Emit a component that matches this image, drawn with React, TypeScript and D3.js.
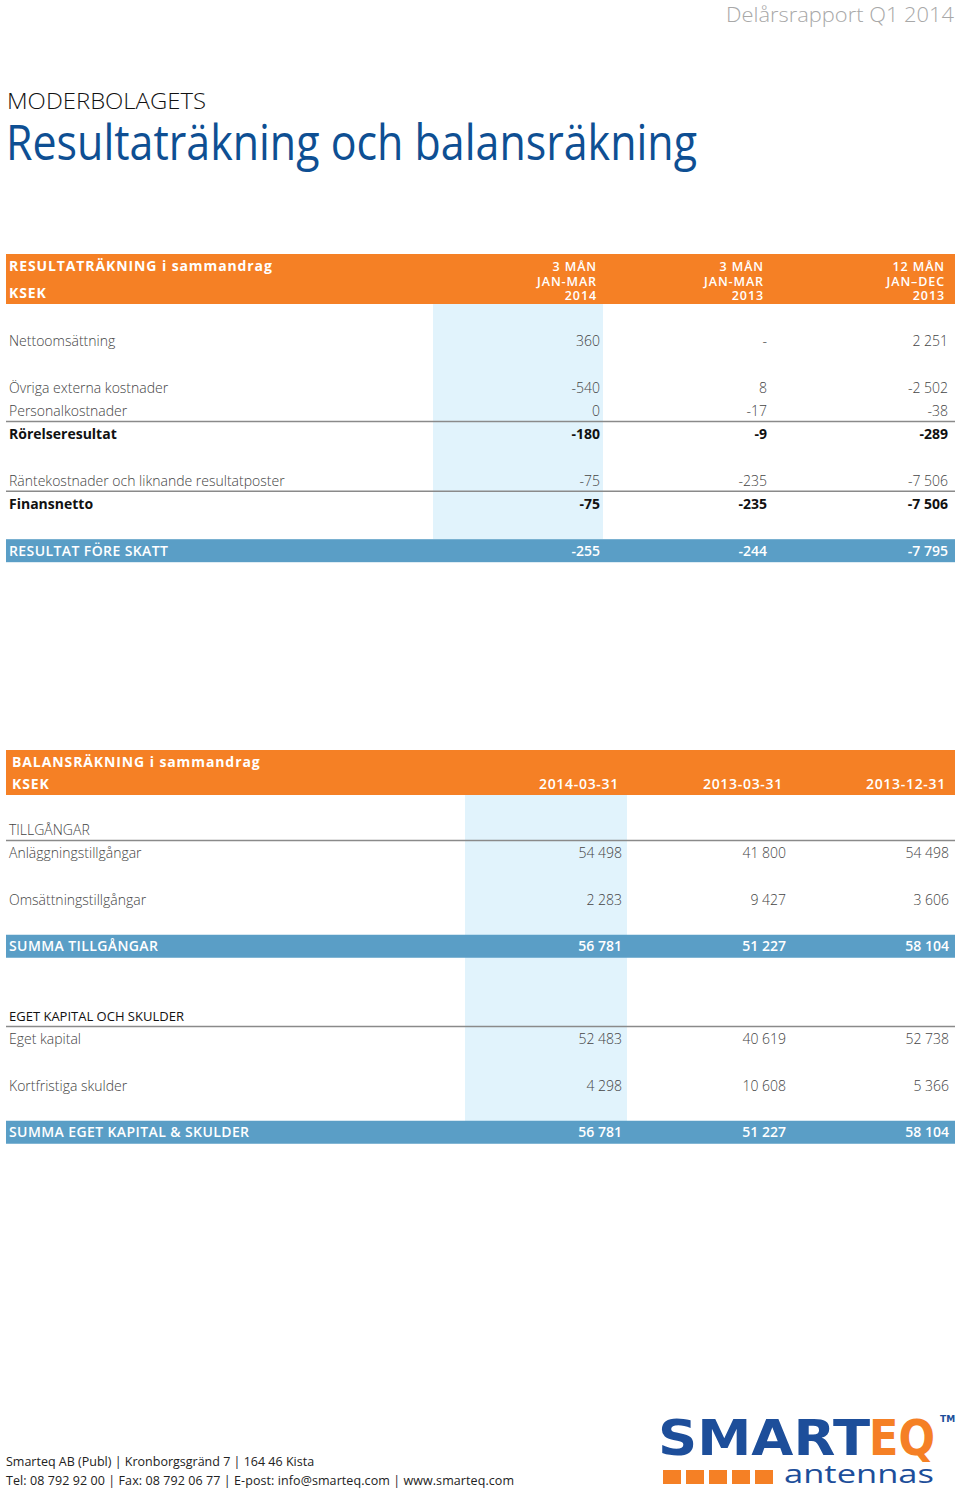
import React from "react";
import * as d3 from "d3";

const W = 960;
const H = 1491;

// Resultaträkning
const incomeCols = ["3 MÅN|JAN-MAR|2014", "3 MÅN|JAN-MAR|2013", "12 MÅN|JAN–DEC|2013"];
const incomeLabels = [
  "Nettoomsättning",
  "Övriga externa kostnader",
  "Personalkostnader",
  "Rörelseresultat",
  "Räntekostnader och liknande resultatposter",
  "Finansnetto",
  "RESULTAT FÖRE SKATT",
];
const incomeSlots = [0, 2, 3, 4, 6, 7, 9];
const incomeKinds = ["plain", "plain", "plain", "bold", "plain", "bold", "total"];
const income2014 = ["360", "-540", "0", "-180", "-75", "-75", "-255"];
const income2013 = ["-", "8", "-17", "-9", "-235", "-235", "-244"];
const incomeYear = ["2 251", "-2 502", "-38", "-289", "-7 506", "-7 506", "-7 795"];
const incomeLinesAfter = [2, 4];

// Balansräkning
const balanceCols = ["2014-03-31", "2013-03-31", "2013-12-31"];
const balanceLabels = [
  "TILLGÅNGAR",
  "Anläggningstillgångar",
  "Omsättningstillgångar",
  "SUMMA TILLGÅNGAR",
  "EGET KAPITAL OCH SKULDER",
  "Eget kapital",
  "Kortfristiga skulder",
  "SUMMA EGET KAPITAL & SKULDER",
];
const balanceSlots = [0, 1, 3, 5, 8, 9, 11, 13];
const balanceKinds = ["section", "plain", "plain", "total", "section2", "plain", "plain", "total"];
const balance1 = ["", "54 498", "2 283", "56 781", "", "52 483", "4 298", "56 781"];
const balance2 = ["", "41 800", "9 427", "51 227", "", "40 619", "10 608", "51 227"];
const balance3 = ["", "54 498", "3 606", "58 104", "", "52 738", "5 366", "58 104"];
const balanceLinesAfter = [0, 4];

const ORANGE = "#f58025";
const BLUE_BAND = "#5a9ec6";
const LIGHT = "#e1f3fc";
const TITLE_BLUE = "#0e4f93";
const LOGO_BLUE = "#1d4e9a";
const FONT = "'Open Sans', sans-serif";

const left = 6;
const right = 955;

function Table({
  top, headH, title, colHeads, colX, bandX, labels, slots, kinds, values, linesAfter, y0, yStep, bodyEnd, titleX,
}: any) {
  const y = d3.scaleLinear().domain([0, 1]).range([y0, y0 + yStep]);
  return (
    <g>
      <rect x={left} y={top} width={right - left} height={headH} fill={ORANGE} />
      <rect x={bandX[0]} y={top + headH} width={bandX[1] - bandX[0]} height={bodyEnd - top - headH} fill={LIGHT} />
      <text x={titleX} y={top + 17} fill="#fff" fontWeight={700} fontSize={14} letterSpacing={0.9} fontFamily={FONT}>
        {title}
      </text>
      <text x={titleX} y={top + headH - 6} fill="#fff" fontWeight={700} fontSize={14} letterSpacing={0.9} fontFamily={FONT}>
        KSEK
      </text>
      {colHeads.map((h: string, i: number) => {
        const parts = h.split("|");
        return parts.map((p, j) => (
          <text
            key={i + "-" + j}
            x={colX[i] - 3}
            y={parts.length === 1 ? top + headH - 6 : top + 17 + j * 14.5}
            textAnchor="end"
            fill="#fff"
            fontWeight={600}
            fontSize={parts.length === 1 ? 14 : 12.5}
            letterSpacing={parts.length === 1 ? 0.7 : 0.9}
            fontFamily={FONT}
          >
            {p}
          </text>
        ));
      })}
      {labels.map((lab: string, i: number) => {
        const k = kinds[i];
        const cy = y(slots[i]);
        const total = k === "total";
        const bold = k === "bold" || total;
        const color = total ? "#fff" : k === "plain" || k === "section" ? "#444" : "#111";
        return (
          <g key={lab}>
            {total && <rect x={left} y={cy - 11.5} width={right - left} height={23} fill={BLUE_BAND} />}
            <text
              x={9}
              y={cy + 5}
              fill={color}
              fontSize={k === "section2" ? 13 : 14}
              fontWeight={bold ? (total ? 600 : 700) : k === "section2" ? 400 : 300}
              letterSpacing={total ? 0.4 : 0}
              fontFamily={FONT}
            >
              {lab}
            </text>
            {values.map((col: string[], c: number) => (
              <text
                key={c}
                x={colX[c]}
                y={cy + 5}
                textAnchor="end"
                fill={color}
                fontSize={14}
                fontWeight={bold ? (total ? 600 : 700) : 300}
                fontFamily={FONT}
              >
                {col[i]}
              </text>
            ))}
          </g>
        );
      })}
      {linesAfter.map((i: number) => (
        <line
          key={"l" + i}
          x1={left}
          x2={right}
          y1={y(slots[i]) + 10.5}
          y2={y(slots[i]) + 10.5}
          stroke="#8a8a8a"
          strokeWidth={1.5}
        />
      ))}
    </g>
  );
}

function Logo() {
  const sq = d3.range(5);
  const sx = d3.scaleLinear().domain([0, 1]).range([663, 686]);
  return (
    <g>
      <text x={658} y={1455} fontFamily="'DejaVu Sans', sans-serif" fontWeight={700} fontSize={50} fill={LOGO_BLUE}
        textLength={212} lengthAdjust="spacingAndGlyphs">
        SMART
      </text>
      <text x={869} y={1455} fontFamily="'DejaVu Sans', sans-serif" fontWeight={700} fontSize={50} fill={ORANGE}
        textLength={66} lengthAdjust="spacingAndGlyphs">
        EQ
      </text>
      <text x={940} y={1422} fontFamily="'DejaVu Sans', sans-serif" fontWeight={700} fontSize={9} fill={LOGO_BLUE}>
        TM
      </text>
      {sq.map((i) => (
        <rect key={i} x={sx(i)} y={1470} width={18} height={14} fill={ORANGE} />
      ))}
      <text x={784} y={1483} fontFamily={FONT} fontSize={26} fill={LOGO_BLUE} textLength={150} lengthAdjust="spacingAndGlyphs">
        antennas
      </text>
    </g>
  );
}

export default function App() {
  return (
    <svg width={W} height={H} viewBox={`0 0 ${W} ${H}`} style={{ display: "block", position: "absolute", left: 0, top: 0 }}>
      <rect width={W} height={H} fill="#fff" />
      <text x={954} y={22} textAnchor="end" fontFamily={FONT} fontWeight={300} fontSize={21} fill="#a8a8a8" textLength={228} lengthAdjust="spacingAndGlyphs">
        Delårsrapport Q1 2014
      </text>
      <text x={7} y={109} fontFamily={FONT} fontWeight={300} fontSize={22} fill="#111" textLength={199} lengthAdjust="spacingAndGlyphs">
        MODERBOLAGETS
      </text>
      <text x={6} y={160} fontFamily={FONT} fontWeight={400} fontSize={49} fill={TITLE_BLUE} textLength={691} lengthAdjust="spacingAndGlyphs">
        Resultaträkning och balansräkning
      </text>

      <Table
        top={254}
        headH={50}
        title="RESULTATRÄKNING i sammandrag"
        titleX={9}
        colHeads={incomeCols}
        colX={[600, 767, 948]}
        bandX={[433, 603]}
        labels={incomeLabels}
        slots={incomeSlots}
        kinds={incomeKinds}
        values={[income2014, income2013, incomeYear]}
        linesAfter={incomeLinesAfter}
        y0={341}
        yStep={23.3}
        bodyEnd={539}
      />

      <Table
        top={750}
        headH={45}
        title="BALANSRÄKNING i sammandrag"
        titleX={12}
        colHeads={balanceCols}
        colX={[622, 786, 949]}
        bandX={[465, 627]}
        labels={balanceLabels}
        slots={balanceSlots}
        kinds={balanceKinds}
        values={[balance1, balance2, balance3]}
        linesAfter={balanceLinesAfter}
        y0={830}
        yStep={23.25}
        bodyEnd={1121}
      />

      <text x={6} y={1466} fontFamily={FONT} fontSize={12.5} fill="#222">
        Smarteq AB (Publ)  |  Kronborgsgränd 7 | 164 46 Kista
      </text>
      <text x={6} y={1485} fontFamily={FONT} fontSize={12.5} fill="#222" textLength={508} lengthAdjust="spacing">
        Tel: 08 792 92 00  |  Fax: 08 792 06 77  |   E-post: info@smarteq.com  |  www.smarteq.com
      </text>
      <Logo />
    </svg>
  );
}
